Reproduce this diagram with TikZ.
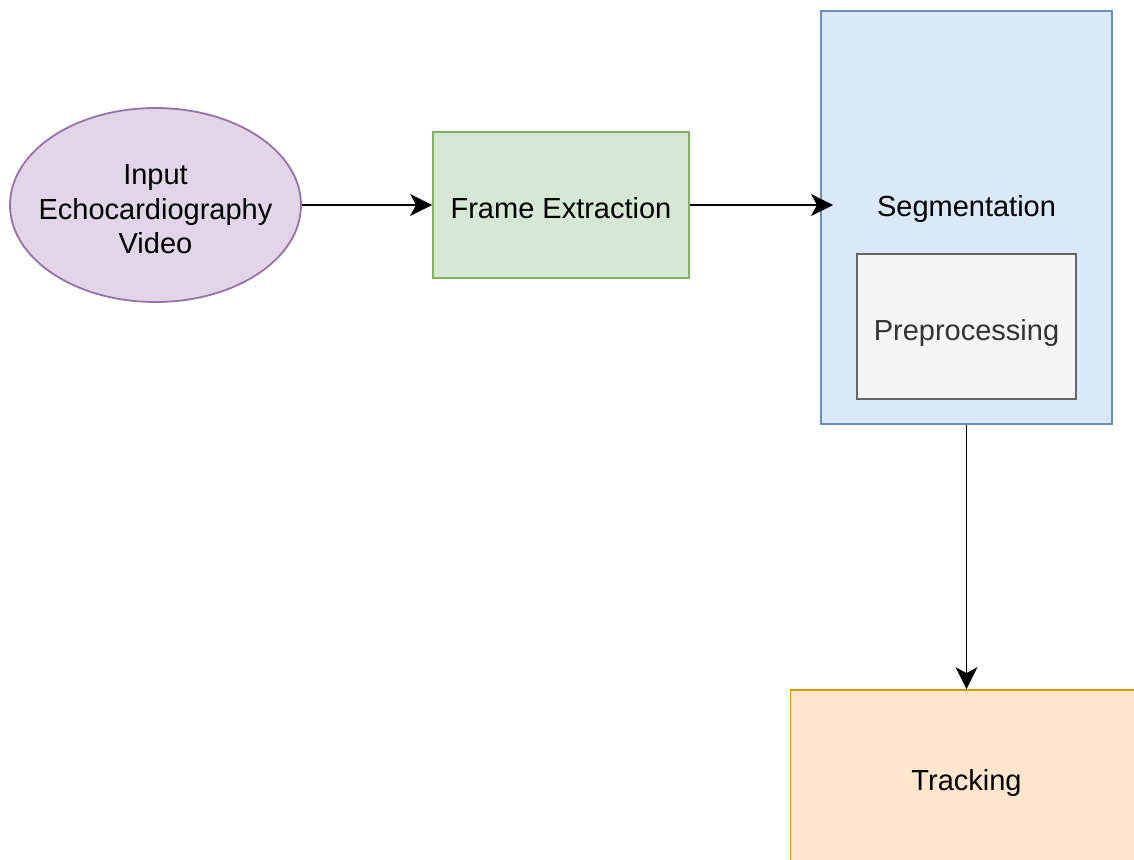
\documentclass[tikz,border=0pt]{standalone}
\usepackage{fontspec}
\setmainfont{Liberation Sans}
\usetikzlibrary{arrows.meta,shapes.geometric}
\definecolor{purfill}{HTML}{E1D5E7}
\definecolor{purline}{HTML}{9673A6}
\definecolor{grnfill}{HTML}{D5E8D4}
\definecolor{grnline}{HTML}{82B366}
\definecolor{blufill}{HTML}{DAE8FC}
\definecolor{bluline}{HTML}{6C8EBF}
\definecolor{gryfill}{HTML}{F5F5F5}
\definecolor{gryline}{HTML}{666666}
\definecolor{gtxt}{HTML}{333333}
\definecolor{orgfill}{HTML}{FFE6CC}
\definecolor{orgline}{HTML}{D79B00}
\tikzset{
  txt/.style={font=\fontsize{29}{34.5}\selectfont, align=center, inner sep=0pt},
  lbl/.style={txt, text height=27pt, text depth=0pt},
  boxr/.style={lbl, rectangle, line width=1.8pt},
  conn/.style={line width=1.8pt, -{Stealth[length=22pt,width=22pt,inset=6pt]}},
}
\begin{document}
\begin{tikzpicture}[x=1pt,y=-1pt]
\useasboundingbox (0,0) rectangle (1134,859);
\begin{scope}
\clip (0,0) rectangle (1134,859);
\node[ellipse, draw=purline, fill=purfill, line width=1.8pt, inner sep=0pt, minimum width=291pt, minimum height=194pt] (inp) at (155.5,205) {};
\node[txt] (inpt) at (155.5,209.5) {Input\\Echocardiography\\Video};
\node[boxr, draw=grnline, fill=grnfill, minimum width=256pt, minimum height=146pt] (fe) at (561,205) {Frame Extraction};
\node[boxr, draw=bluline, fill=blufill, minimum width=291pt, minimum height=413pt] (seg) at (966.5,217.5) {};
\node[lbl] (segt) at (966.5,203) {Segmentation};
\node[boxr, draw=gryline, fill=gryfill, text=gtxt, minimum width=219pt, minimum height=145pt] (pre) at (966.5,326.5) {Preprocessing};
\node[boxr, draw=orgline, fill=orgfill, minimum width=352pt, minimum height=174pt] (trk) at (966.5,777) {Tracking};
\coordinate (segin) at (833,205);
\draw[conn] (inp.east) -- (fe.west);
\draw[conn] (fe.east) -- (segin);
\draw[conn] (seg.south) -- (trk.north);
\end{scope}
\end{tikzpicture}
\end{document}
